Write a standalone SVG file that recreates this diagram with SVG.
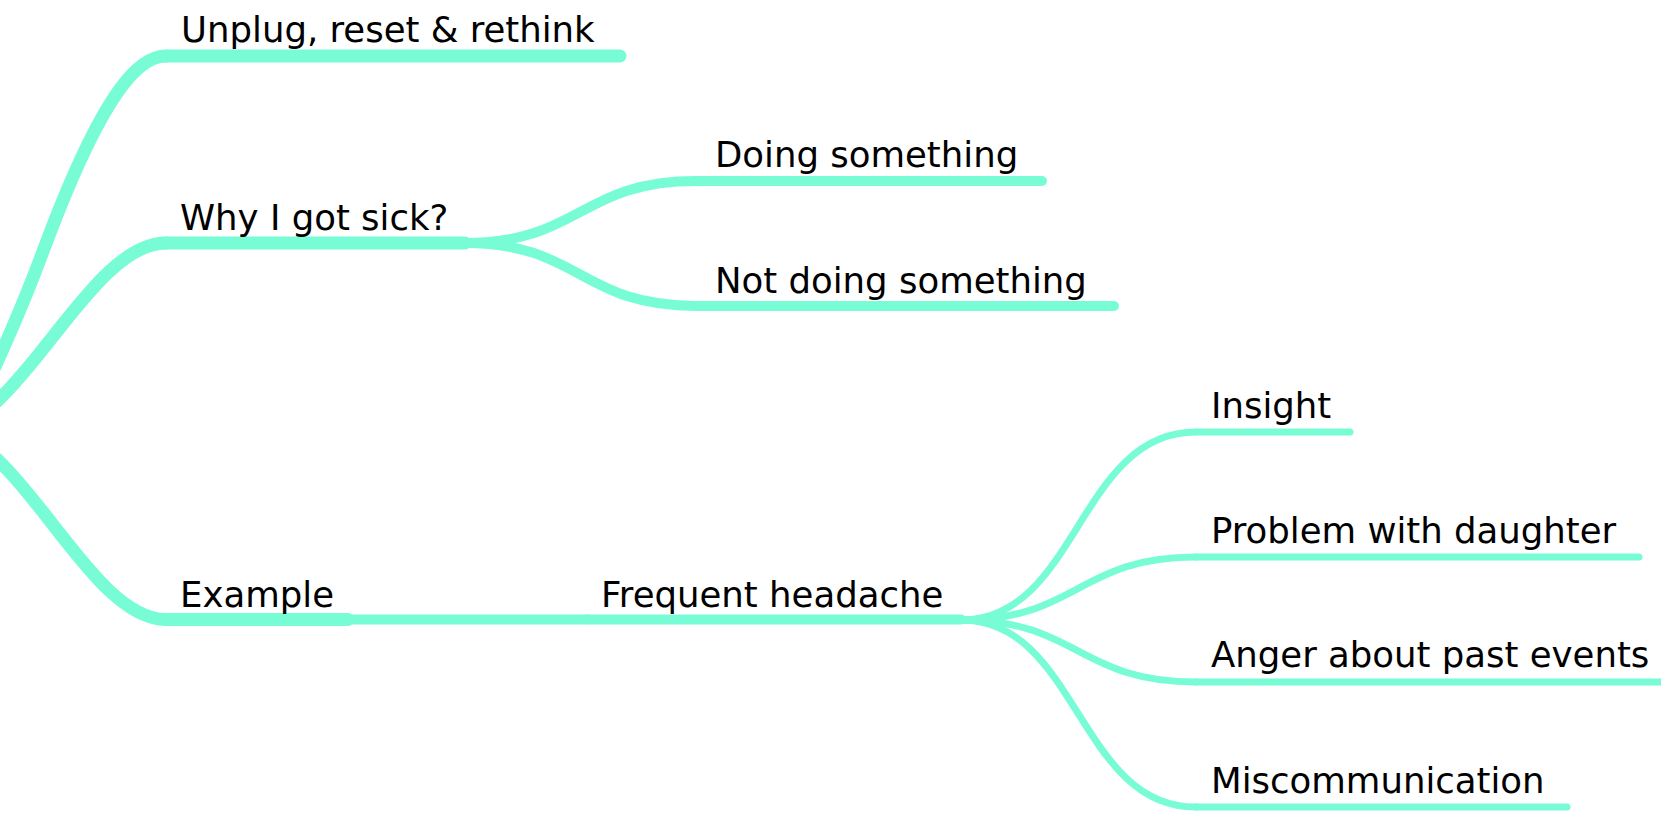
<svg xmlns="http://www.w3.org/2000/svg" width="1661" height="820" viewBox="0 0 1661 820">
<style>
.t{font-family:"DejaVu Sans",Verdana,sans-serif;font-size:35.5px;fill:#000}
.b{fill:none;stroke:#78FCD6;stroke-linecap:round;stroke-linejoin:round}
.b1{stroke-width:13}
.b2{stroke-width:10}
.b3{stroke-width:7}
</style>
<rect width="1661" height="820" fill="#fff"/>
<g id="connectors">
  <path class="b b1" d="M -25 408 C -5 370 25 300 42 254 C 104.3 85.7 140.5 56 166 56"/>
  <path class="b b1" d="M -60 430 C 19 430 87 243 166 243"/>
  <path class="b b1" d="M -60 430 C 19 430 87 619.5 166 619.5"/>
  <path class="b b2" d="M 465 243 C 580 243 580 181 696 181"/>
  <path class="b b2" d="M 465 243 C 580 243 580 306 696 306"/>
  <path class="b b2" d="M 348 619.5 L 587 619.5"/>
  <path class="b b3" d="M 961 620 C 1078 620 1078 432 1196 432"/>
  <path class="b b3" d="M 961 620 C 1078 620 1078 557 1196 557"/>
  <path class="b b3" d="M 961 620 C 1078 620 1078 682 1196 682"/>
  <path class="b b3" d="M 961 620 C 1078 620 1078 807 1196 807"/>
</g>
<g id="node-unplug">
  <line class="b b1" x1="166" y1="56" x2="620" y2="56"/>
  <text class="t" x="181" y="42">Unplug, reset &amp; rethink</text>
</g>
<g id="node-why">
  <line class="b b1" x1="166" y1="243" x2="465" y2="243"/>
  <text class="t" x="180" y="230">Why I got sick?</text>
</g>
<g id="node-example">
  <line class="b b1" x1="166" y1="619.5" x2="348" y2="619.5"/>
  <text class="t" x="180" y="607">Example</text>
</g>
<g id="node-doing">
  <line class="b b2" x1="696" y1="181" x2="1042" y2="181"/>
  <text class="t" x="715" y="167">Doing something</text>
</g>
<g id="node-notdoing">
  <line class="b b2" x1="696" y1="306" x2="1114" y2="306"/>
  <text class="t" x="715" y="293">Not doing something</text>
</g>
<g id="node-headache">
  <line class="b b2" x1="587" y1="619.5" x2="961" y2="619.5"/>
  <text class="t" x="601" y="607">Frequent headache</text>
</g>
<g id="node-insight">
  <line class="b b3" x1="1196" y1="432" x2="1350" y2="432"/>
  <text class="t" x="1211" y="418">Insight</text>
</g>
<g id="node-daughter">
  <line class="b b3" x1="1196" y1="557" x2="1639" y2="557"/>
  <text class="t" x="1211" y="543">Problem with daughter</text>
</g>
<g id="node-anger">
  <line class="b b3" x1="1196" y1="682" x2="1670" y2="682"/>
  <text class="t" x="1211" y="667">Anger about past events</text>
</g>
<g id="node-miscomm">
  <line class="b b3" x1="1196" y1="807" x2="1567" y2="807"/>
  <text class="t" x="1211" y="793">Miscommunication</text>
</g>
</svg>
